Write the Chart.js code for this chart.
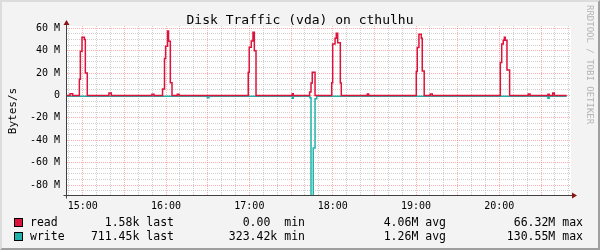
<!DOCTYPE html>
<html>
<head>
<meta charset="utf-8">
<title>Disk Traffic (vda) on cthulhu</title>
<script src="https://cdn.jsdelivr.net/npm/chart.js@4.4.1/dist/chart.umd.min.js"></script>
<style>
  html, body { margin: 0; padding: 0; background: #f3f3f3; }
  #graph { position: relative; width: 600px; height: 250px; overflow: hidden;
           font-family: "DejaVu Sans Mono", monospace; color: #000; }
  #graph canvas { position: absolute; left: 0; top: 0; }
  .frame { position: absolute; left: 0; top: 0; width: 600px; height: 250px; box-sizing: border-box;
           border-left: 2px solid #dcdcdc; border-top: 2px solid #dcdcdc;
           border-right: 2px solid #9e9e9e; border-bottom: 2px solid #9e9e9e; pointer-events: none; }
  .title { position: absolute; left: 0; top: 12px; width: 600px; text-align: center; font-size: 13px; }
  .unit { position: absolute; left: 12px; top: 111px; font-size: 11px; white-space: nowrap;
          transform: translate(-50%, -50%) rotate(-90deg); }
  .mark { position: absolute; left: 585px; top: 5px; font-size: 9px; color: #b4b4b4;
          writing-mode: vertical-rl; white-space: nowrap; }
  .leg { position: absolute; font-size: 11.5px; white-space: pre; line-height: 14px; }
  .box { position: absolute; width: 7px; height: 7px; border: 1px solid #000; }
</style>
</head>
<body>
<div id="graph">
  <canvas id="traffic" width="600" height="250"></canvas>
  <div class="title">Disk Traffic (vda) on cthulhu</div>
  <div class="unit">Bytes/s</div>
  <div class="mark">RRDTOOL / TOBI OETIKER</div>
  <div id="legend"></div>
  <div class="frame"></div>
</div>
<script>
// time axis: minutes since midnight (6 hour window)
const timeStart = 888.7;
const timeEnd = 1251.6;

// read rate in MB/s, each value holds from its time until the next one
const readTimes = [888.7, 890.9, 892.8, 897.6, 898.3, 899.5, 901.2, 901.9, 903.3,
  918.9, 920.6, 949.9, 951.3, 957.5, 958.9, 959.7, 961.1, 961.8, 963.1, 964.3,
  968.1, 969.4, 1019.2, 1019.9, 1021.4, 1022.6, 1023.6, 1024.8, 1050.9, 1051.6,
  1063.4, 1064.4, 1065.3, 1067.3, 1079.3, 1080.0, 1081.7, 1082.6, 1083.6, 1085.5, 1086.2,
  1104.9, 1105.9, 1140.2, 1140.9, 1142.1, 1143.8, 1144.5, 1145.9, 1150.3, 1151.7,
  1200.7, 1201.7, 1202.8, 1203.6, 1204.3, 1205.5, 1207.4, 1220.8, 1222.1,
  1235.0, 1235.9, 1238.4, 1239.6, 1248.5];
const readValues = [0, 1.5, 0, 14.5, 39.5, 52, 50, 20, 0,
  2.2, 0, 1, 0, 5.8, 33, 44, 57.6, 48.4, 11.4, 0,
  1, 0, 20.7, 43, 48.5, 56.5, 40, 0, 1.6, 0,
  3, 11, 20.7, 0, 11.4, 46, 51, 55.5, 47, 11, 0,
  1.3, 0, 21.3, 42.7, 54.6, 51, 21.9, 0, 1.3, 0,
  29.3, 46, 49.3, 52, 49.3, 22.8, 0, 1.3, 0,
  1, 0, 2.2, 0, 0];

// write rate in MB/s, drawn below zero
const writeTimes = [888.7, 989.7, 990.9, 1050.9, 1051.6, 1063.6, 1064.4, 1066.0,
  1067.3, 1068.5, 1235.0, 1235.9, 1248.5];
const writeValues = [-0.7, -2, -0.7, -2.5, -0.7, -2, -130.5, -47,
  -3, -0.7, -2.5, -0.7, -0.7];

// legend figures
const seriesNames = ["read", "write"];
const seriesColors = ["#dc143c", "#20b2aa"];
const lastValues = ["1.58k", "711.45k"];
const minValues = ["0.00 ", "323.42k"];
const avgValues = ["4.06M", "1.26M"];
const maxValues = ["66.32M", "130.55M"];

const yMin = -89.8;
const yMax = 62;

function toPoints(times, values) {
  return times.map((t, i) => ({ x: t, y: values[i] }));
}

function clock(minutes) {
  const h = Math.floor(minutes / 60);
  const m = Math.round(minutes % 60);
  return String(h).padStart(2, "0") + ":" + String(m).padStart(2, "0");
}

/******************** white canvas, axes and arrows like rrdtool ********************/
const rrdFrame = {
  id: "rrdFrame",
  beforeDraw(chart) {
    const { ctx, chartArea: a } = chart;
    ctx.save();
    ctx.fillStyle = "#ffffff";
    ctx.fillRect(a.left, a.top, a.right - a.left, a.bottom - a.top);
    ctx.restore();
  },
  afterDraw(chart) {
    const { ctx, chartArea: a } = chart;
    const x0 = a.left - 0.5;
    const y0 = a.bottom - 0.5;
    ctx.save();
    ctx.strokeStyle = "#404040";
    ctx.lineWidth = 1;
    ctx.beginPath();
    ctx.moveTo(x0, y0 + 3);
    ctx.lineTo(x0, a.top - 3);
    ctx.moveTo(x0 - 3, y0);
    ctx.lineTo(a.right + 2, y0);
    ctx.stroke();
    ctx.fillStyle = "#8b1414";
    ctx.beginPath();
    ctx.moveTo(x0 - 3, a.top - 1);
    ctx.lineTo(x0 + 3, a.top - 1);
    ctx.lineTo(x0, a.top - 6);
    ctx.closePath();
    ctx.fill();
    ctx.beginPath();
    ctx.moveTo(a.right + 1, y0 - 3);
    ctx.lineTo(a.right + 1, y0 + 3);
    ctx.lineTo(a.right + 6, y0);
    ctx.closePath();
    ctx.fill();
    ctx.restore();
  }
};

const tickFont = { family: "DejaVu Sans Mono", size: 10 };
const majorGrid = "rgba(255, 95, 95, 0.5)";
const minorGrid = "rgba(150, 150, 150, 0.45)";

new Chart(document.getElementById("traffic"), {
  type: "line",
  data: {
    datasets: [
      {
        label: seriesNames[0],
        data: toPoints(readTimes, readValues),
        borderColor: seriesColors[0],
        borderWidth: 1.5,
        stepped: true,
        pointRadius: 0,
        fill: false
      },
      {
        label: seriesNames[1],
        data: toPoints(writeTimes, writeValues),
        borderColor: seriesColors[1],
        borderWidth: 1.5,
        stepped: true,
        pointRadius: 0,
        fill: false
      }
    ]
  },
  options: {
    responsive: false,
    animation: false,
    events: [],
    layout: { padding: { top: 26, right: 29, left: 0, bottom: 0 } },
    plugins: { legend: { display: false }, tooltip: { enabled: false } },
    scales: {
      x: {
        type: "linear",
        min: timeStart,
        max: timeEnd,
        afterFit: (scale) => { scale.height = 54; },
        border: { display: false, dash: [1, 1] },
        grid: {
          drawTicks: false,
          color: (c) => (c.tick && c.tick.value % 30 === 0 ? majorGrid : minorGrid)
        },
        ticks: {
          stepSize: 10,
          includeBounds: false,
          autoSkip: false,
          maxRotation: 0,
          padding: 4,
          color: "#000",
          font: tickFont,
          callback: (v) => (v % 60 === 0 ? clock(v) : "")
        }
      },
      y: {
        min: yMin,
        max: yMax,
        afterFit: (scale) => { scale.width = 67; },
        border: { display: false, dash: [1, 1] },
        grid: {
          drawTicks: false,
          color: (c) => (c.tick && c.tick.value % 20 === 0 ? majorGrid : minorGrid)
        },
        ticks: {
          stepSize: 5,
          includeBounds: false,
          autoSkip: false,
          padding: 7,
          color: "#000",
          font: tickFont,
          callback: (v) => (v % 20 === 0 ? (v === 0 ? "0" : v + " M") : "")
        }
      }
    }
  },
  plugins: [rrdFrame]
});

/******************** legend rows under the graph ********************/
const legend = document.getElementById("legend");
const rowTops = [215, 229];
seriesNames.forEach((name, i) => {
  const top = rowTops[i];
  const cells = [
    { text: name, left: 30 },
    { text: lastValues[i] + " last", right: 600 - 174 },
    { text: minValues[i] + " min", right: 600 - 305 },
    { text: avgValues[i] + " avg", right: 600 - 446 },
    { text: maxValues[i] + " max", right: 600 - 583 }
  ];
  const box = document.createElement("div");
  box.className = "box";
  box.style.left = "14px";
  box.style.top = (top + 3) + "px";
  box.style.background = seriesColors[i];
  legend.appendChild(box);
  cells.forEach((c) => {
    const el = document.createElement("div");
    el.className = "leg";
    el.textContent = c.text;
    el.style.top = top + "px";
    if (c.left !== undefined) el.style.left = c.left + "px";
    else el.style.right = c.right + "px";
    legend.appendChild(el);
  });
});
</script>
</body>
</html>
